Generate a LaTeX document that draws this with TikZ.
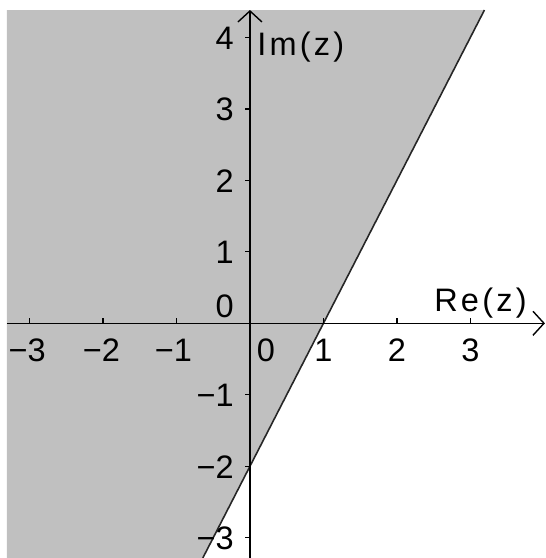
\documentclass[tikz,border=0pt]{standalone}
\usepackage{fontspec}
\setmainfont{Liberation Sans}
\newfontfamily\widesans[LetterSpace=10]{Liberation Sans}
\usepackage{xcolor}
\usetikzlibrary{arrows.meta}
\definecolor{regiongray}{RGB}{192, 192, 192}

\begin{document}
\begin{tikzpicture}[
    x=1.47cm, y=1.43cm,
    axis/.style={line width=0.8pt, -{Straight Barb[length=2.2mm, width=4.8mm, line width=0.8pt]}},
    tickmark/.style={line width=0.8pt},
    boundary/.style={line width=0.9pt, black!85},
    region/.style={fill=regiongray, draw=none},
    ticklabel/.style={inner sep=0pt, font=\fontsize{18.5}{20}\selectfont},
    axislabel/.style={inner sep=0pt, anchor=base west, font=\widesans\fontsize{18.5}{20}\selectfont}
  ]
    \useasboundingbox (-3.401, -3.283) rectangle (4.027, 4.522);

    % shaded half plane left of the line Im = 2 Re - 2
    \coordinate (bl) at (-3.306, -3.283);
    \coordinate (tl) at (-3.306, 4.382);
    \coordinate (top) at (3.191, 4.382);
    \coordinate (bot) at (-0.6415, -3.283);
    \fill[region] (bl) -- (tl) -- (top) -- (bot) -- cycle;
    \draw[boundary] (bot) -- (top);

    % axes
    \coordinate (xstart) at (-3.306, 0);
    \coordinate (xend) at (4.014, 0);
    \coordinate (ystart) at (0, -3.283);
    \coordinate (yend) at (0, 4.382);
    \draw[axis] (xstart) -- (xend);
    \draw[axis] (ystart) -- (yend);

    \foreach \k in {-3,-2,-1,1,2,3}
      \draw[tickmark] (\k, 0) -- (\k, 0.068);
    \foreach \k in {-3,-2,-1,1,2,3,4}
      \draw[tickmark] (0, \k) -- (-0.068, \k);

    % tick labels
    \node[ticklabel, anchor=base] (xm3) at (-3.03, -0.54) {−3};
    \node[ticklabel, anchor=base] (xm2) at (-2.02, -0.54) {−2};
    \node[ticklabel, anchor=base] (xm1) at (-1.04, -0.54) {−1};
    \node[ticklabel, anchor=base] (x0) at (0.218, -0.54) {0};
    \node[ticklabel, anchor=base] (x1) at (1, -0.54) {1};
    \node[ticklabel, anchor=base] (x2) at (2, -0.54) {2};
    \node[ticklabel, anchor=base] (x3) at (3, -0.54) {3};

    \node[ticklabel, anchor=base east] (y0) at (-0.215, 0.074) {0};
    \foreach \k/\t in {-3/−3,-2/−2,-1/−1,1/1,2/2,3/3,4/4}
      \node[ticklabel, anchor=base east] (y\k) at (-0.215, \k - 0.168) {\t};

    \node[axislabel] (relabel) at (2.503, 0.158) {Re(z)};
    \node[axislabel] (imlabel) at (0.095, 3.75) {Im(z)};
  \end{tikzpicture}
\end{document}
